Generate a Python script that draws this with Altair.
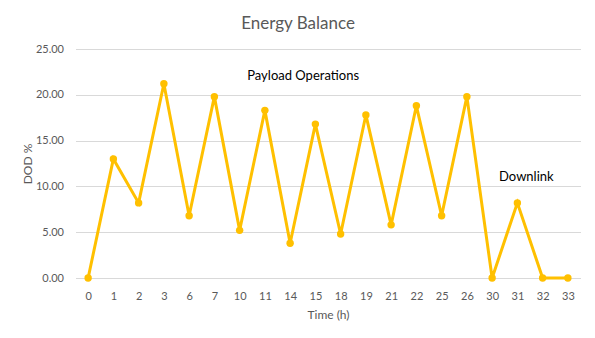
import altair as alt
import pandas as pd

hours = ["0", "1", "2", "3", "6", "7", "10", "11", "14", "15",
         "18", "19", "21", "22", "25", "26", "30", "31", "32", "33"]
dod = [0.0, 13.0, 8.2, 21.2, 6.8, 19.8, 5.2, 18.3, 3.8, 16.8,
       4.8, 17.8, 5.8, 18.8, 6.8, 19.8, 0.0, 8.2, 0.0, 0.0]

note_text = ["Payload Operations", "Downlink"]
note_x = ["14", "31"]
note_y = [22.07, 11.0]

df = pd.DataFrame({"Time (h)": hours, "DOD %": dod})
notes = pd.DataFrame({"label": note_text, "x": note_x, "y": note_y})

FONT = "Lato"
GRAY = "#595959"

xscale = alt.Scale(type="point", padding=0.5, domain=hours)
yscale = alt.Scale(domain=[0, 25])

base = alt.Chart(df)

line = base.mark_line(color="#FFC000", strokeWidth=3,
                      point=alt.OverlayMarkDef(color="#FFC000", size=55, opacity=1)).encode(
    x=alt.X("Time (h):N", scale=xscale, sort=hours,
            axis=alt.Axis(title="Time (h)", labelAngle=0, ticks=False, domainColor="#D9D9D9",
                          labelPadding=12, labelFontSize=11, labelColor=GRAY, labelFont=FONT,
                          titleFont=FONT, titleFontSize=12, titleColor=GRAY, titleFontWeight="normal",
                          titleY=36, titleBaseline="middle")),
    y=alt.Y("DOD %:Q", scale=yscale,
            axis=alt.Axis(title="DOD %", values=[0, 5, 10, 15, 20, 25], format=".2f", ticks=False,
                          domain=False, gridColor="#D9D9D9", labelPadding=12, labelFontSize=11,
                          labelColor=GRAY, labelFont=FONT, titleFont=FONT, titleFontSize=12,
                          titleColor=GRAY, titleFontWeight="normal", titleX=-48.5,
                          titleBaseline="middle")),
)

t1 = alt.Chart(notes.iloc[[0]]).mark_text(font=FONT, fontSize=13, color="black", baseline="middle",
                                          align="center", dx=13).encode(
    x=alt.X("x:N", scale=xscale, sort=hours), y=alt.Y("y:Q", scale=yscale), text="label:N")
t2 = alt.Chart(notes.iloc[[1]]).mark_text(font=FONT, fontSize=13, color="black", baseline="middle",
                                          align="center", dx=9).encode(
    x=alt.X("x:N", scale=xscale, sort=hours), y=alt.Y("y:Q", scale=yscale), text="label:N")

chart = alt.layer(line, t1, t2).properties(
    width=505, height=229,
    background="white",
    title=alt.TitleParams("Energy Balance", font=FONT, fontSize=17, fontWeight="normal", color=GRAY,
                          anchor="middle", frame="group", dx=-30, offset=10),
    autosize=alt.AutoSizeParams(type="none"),
    padding={"left": 67.5, "top": 41, "right": 6.5, "bottom": 52},
).configure_view(stroke=None)

chart.save("out.html", embed_options={"renderer": "svg", "actions": False})
